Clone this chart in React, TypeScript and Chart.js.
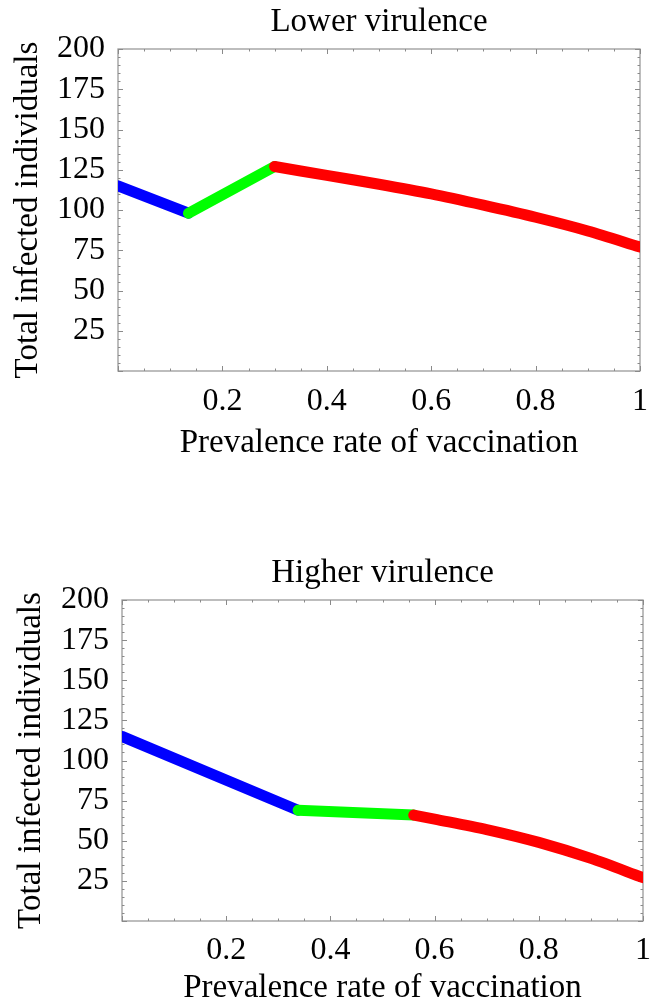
import React, { useEffect, useRef } from "react";
import { Chart, registerables } from "chart.js";

Chart.register(...registerables);

// ---- data ----
const X_TICKS = [0.2, 0.4, 0.6, 0.8, 1];
const Y_TICKS = [25, 50, 75, 100, 125, 150, 175, 200];

const lowerBlueX = [0, 0.135];
const lowerBlueY = [115, 98];
const lowerGreenX = [0.135, 0.3];
const lowerGreenY = [98, 127];
const lowerRedX = [0.3, 0.4, 0.5, 0.6, 0.7, 0.8, 0.9, 1.0];
const lowerRedY = [127, 121.5, 116, 110, 103, 95.5, 87, 77];

const higherBlueX = [0, 0.338];
const higherBlueY = [115, 69];
const higherGreenX = [0.338, 0.56];
const higherGreenY = [69, 66];
const higherRedX = [0.56, 0.6, 0.7, 0.8, 0.9, 1.0];
const higherRedY = [66, 63.5, 57, 49, 39, 27];

const FONT = "'Liberation Serif', 'DejaVu Serif', serif";

const zip = (xs: number[], ys: number[]) => xs.map((x, i) => ({ x, y: ys[i] }));

const frameTicks = {
  id: "frameTicks",
  beforeDatasetsDraw(chart: any) {
    const { ctx, chartArea: a, scales } = chart;
    const xs = scales.x;
    const ys = scales.y;
    ctx.save();
    ctx.strokeStyle = "#9a9a9a";
    ctx.lineWidth = 1.3;
    ctx.strokeRect(a.left, a.top, a.right - a.left, a.bottom - a.top);
    ctx.lineWidth = 1;
    ctx.strokeStyle = "#8a8a8a";
    ctx.beginPath();
    for (let i = 0; i <= 20; i++) {
      const v = i * 0.05;
      const major = i % 4 === 0;
      const len = major ? 5 : 2.5;
      const px = Math.round(xs.getPixelForValue(v)) + 0.5;
      ctx.moveTo(px, a.bottom);
      ctx.lineTo(px, a.bottom - len);
      ctx.moveTo(px, a.top);
      ctx.lineTo(px, a.top + len);
    }
    for (let i = 0; i <= 40; i++) {
      const v = i * 5;
      const major = i % 5 === 0;
      const len = major ? 5 : 2.5;
      const py = Math.round(ys.getPixelForValue(v)) + 0.5;
      ctx.moveTo(a.left, py);
      ctx.lineTo(a.left + len, py);
      ctx.moveTo(a.right, py);
      ctx.lineTo(a.right - len, py);
    }
    ctx.stroke();
    ctx.restore();
  },
};

type Cfg = {
  title: string;
  height: number;
  plotLeft: number;
  plotRight: number;
  plotTop: number;
  plotBottom: number;
  titleY: number;
  xTickY: number;
  xTitleY: number;
  yTitleX: number;
  yLabelRight: number;
  blue: { x: number; y: number }[];
  green: { x: number; y: number }[];
  red: { x: number; y: number }[];
};

const W = 656;
const TICK_SIZE = 32;
const TITLE_SIZE = 33;

function makeConfig(c: Cfg): any {
  const ds = (data: any[], color: string, order: number, tension: number) => ({
    data,
    borderColor: color,
    backgroundColor: color,
    borderWidth: 11,
    pointRadius: 0,
    borderCapStyle: "round",
    borderJoinStyle: "round",
    tension,
    clip: 0,
    order,
  });
  return {
    type: "line",
    data: {
      datasets: [
        ds(c.blue, "#0000ff", 3, 0),
        ds(c.green, "#00ff00", 2, 0),
        ds(c.red, "#ff0000", 1, 0.3),
      ],
    },
    plugins: [frameTicks],
    options: {
      responsive: false,
      animation: false,
      events: [],
      layout: { padding: { left: 0, right: W - c.plotRight, top: 0, bottom: 0 } },
      plugins: {
        legend: { display: false },
        tooltip: { enabled: false },
        title: {
          display: true,
          text: c.title,
          fullSize: false,
          color: "#000",
          font: { family: FONT, size: TITLE_SIZE, weight: "normal", lineHeight: 1 },
          padding: {
            top: c.titleY - TITLE_SIZE / 2,
            bottom: c.plotTop - c.titleY - TITLE_SIZE / 2,
          },
        },
      },
      scales: {
        x: {
          type: "linear",
          min: 0,
          max: 1,
          afterFit: (s: any) => {
            s.height = c.height - c.plotBottom;
            s.paddingLeft = 0;
            s.paddingRight = 0;
          },
          afterBuildTicks: (s: any) => {
            s.ticks = [0, ...X_TICKS].map((v) => ({ value: v }));
          },
          grid: { display: false, drawTicks: false },
          border: { display: false },
          ticks: {
            color: "#000",
            maxRotation: 0,
            autoSkip: false,
            padding: c.xTickY - c.plotBottom - TICK_SIZE / 2,
            font: { family: FONT, size: TICK_SIZE, lineHeight: 1 },
            callback: (v: number) => (v === 0 ? "" : String(Math.round(v * 10) / 10)),
          },
          title: {
            display: true,
            text: "Prevalence rate of vaccination",
            color: "#000",
            font: { family: FONT, size: TITLE_SIZE, lineHeight: 1 },
            padding: { top: 0, bottom: c.height - c.xTitleY - TITLE_SIZE / 2 },
          },
        },
        y: {
          type: "linear",
          min: 0,
          max: 200,
          afterFit: (s: any) => {
            s.width = c.plotLeft;
            s.paddingTop = 0;
            s.paddingBottom = 0;
          },
          afterBuildTicks: (s: any) => {
            s.ticks = [0, ...Y_TICKS].map((v) => ({ value: v }));
          },
          grid: { display: false, drawTicks: false },
          border: { display: false },
          ticks: {
            color: "#000",
            autoSkip: false,
            padding: c.plotLeft - c.yLabelRight,
            font: { family: FONT, size: TICK_SIZE, lineHeight: 1 },
            callback: (v: number) => (v === 0 ? "" : String(v)),
          },
          title: {
            display: true,
            text: "Total infected individuals",
            color: "#000",
            font: { family: FONT, size: TITLE_SIZE, lineHeight: 1 },
            padding: { top: c.yTitleX - TITLE_SIZE / 2, bottom: 0 },
          },
        },
      },
    },
  };
}

const cfgTop: Cfg = {
  title: "Lower virulence",
  height: 500,
  plotLeft: 118,
  plotRight: 640,
  plotTop: 49,
  plotBottom: 371,
  titleY: 22,
  xTickY: 402,
  xTitleY: 443,
  yTitleX: 28,
  yLabelRight: 105,
  blue: zip(lowerBlueX, lowerBlueY),
  green: zip(lowerGreenX, lowerGreenY),
  red: zip(lowerRedX, lowerRedY),
};

const cfgBottom: Cfg = {
  title: "Higher virulence",
  height: 505,
  plotLeft: 122,
  plotRight: 643,
  plotTop: 100,
  plotBottom: 421,
  titleY: 73,
  xTickY: 451,
  xTitleY: 488,
  yTitleX: 31,
  yLabelRight: 109,
  blue: zip(higherBlueX, higherBlueY),
  green: zip(higherGreenX, higherGreenY),
  red: zip(higherRedX, higherRedY),
};

function Panel({ cfg, top }: { cfg: Cfg; top: number }) {
  const ref = useRef<HTMLCanvasElement | null>(null);
  useEffect(() => {
    if (!ref.current) return;
    const chart = new Chart(ref.current, makeConfig(cfg));
    return () => chart.destroy();
  }, [cfg]);
  return (
    <canvas
      ref={ref}
      width={W}
      height={cfg.height}
      style={{ position: "absolute", left: 0, top, width: W, height: cfg.height }}
    />
  );
}

export default function App() {
  return (
    <div
      style={{
        position: "absolute",
        left: 0,
        top: 0,
        width: W,
        height: 1005,
        background: "#fff",
        overflow: "hidden",
      }}
    >
      <Panel cfg={cfgTop} top={0} />
      <Panel cfg={cfgBottom} top={500} />
    </div>
  );
}
